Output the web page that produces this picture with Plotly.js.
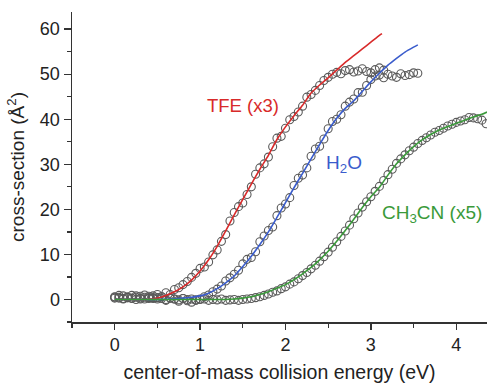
<!DOCTYPE html>
<html>
<head>
<meta charset="utf-8">
<script src="https://cdn.plot.ly/plotly-3.0.1.min.js"></script>
<style>html,body{margin:0;padding:0;background:#fff;}#chart{width:487px;height:383px;}</style>
</head>
<body>
<div id="chart"></div>
<script>
// Measured data (x starts at 0, step 0.05 eV)
const dataStart = 0;
const dataStep = 0.05;
const tfeData = [0.6,0.3,0.8,0.4,0.9,0.5,0.7,1.0,0.4,0.8,
  1.1,0.6,1.5,1.1,2.2,2.6,3.3,4.0,4.9,5.8,
  6.9,7.2,8.3,9.9,11.0,12.9,14.4,17.4,19.3,20.6,
  21.4,23.3,25.0,27.8,29.2,30.1,31.6,33.9,35.8,36.2,
  38.0,39.9,40.6,41.6,42.9,44.9,45.5,46.4,47.5,48.6,
  49.3,50.0,50.4,50.1,50.8,51.0,50.5,50.7,51.2,50.6,
  50.3,51.0,51.4,50.9];
const h2oData = [0.5,0.9,0.2,0.6,0.3,0.8,0.1,0.5,0.7,0.2,
  0.4,0.6,-0.2,0.3,0.1,-0.4,0.2,-0.3,-0.6,-0.2,
  0.1,0.6,1.0,1.7,2.3,3.0,4.1,4.8,5.6,6.5,
  7.9,8.9,9.3,10.6,12.8,14.1,15.3,16.1,18.6,20.3,
  21.2,22.6,25.3,26.9,27.6,29.2,31.8,33.4,34.0,35.6,
  37.9,39.5,40.0,41.0,42.9,43.8,44.5,45.9,46.0,47.5,
  48.8,49.6,49.8,49.2,50.0,49.6,49.3,50.1,49.7,49.9,50.3,50.2];
const ch3cnData = [0.3,0.5,0.1,0.4,0.2,0.0,0.3,0.1,0.2,0.4,
  0.1,0.2,0.0,0.3,0.1,-0.1,0.2,0.0,0.1,-0.1,
  0.0,0.1,-0.2,0.0,-0.1,0.1,-0.2,-0.1,0.0,-0.2,
  0.0,0.1,0.2,0.4,0.6,0.9,1.2,1.6,1.9,2.4,
  2.8,3.4,3.9,4.6,5.3,6.0,6.8,7.6,8.5,9.5,
  10.5,11.6,12.8,14.0,15.2,16.5,17.9,19.2,20.5,21.7,
  22.8,24.0,25.1,26.4,27.7,28.9,30.2,31.2,32.1,33.0,
  33.8,34.6,35.3,35.9,36.5,37.1,37.5,38.0,38.5,38.9,
  39.3,39.6,39.9,40.4,40.3,40.1,39.8,39.0];

// Fit curves
const tfeFitX = [0,0.1,0.2,0.3,0.4,0.5,0.6,0.7,0.8,0.9,1.0,1.1,1.2,1.3,1.4,1.5,1.6,1.7,1.8,1.9,2.0,2.1,2.2,2.3,2.4,2.5,2.6,2.7,2.8,2.9,3.0,3.1,3.13];
const tfeFitY = [0,0,0,0,0.05,0.3,0.9,1.7,2.8,4.3,6.3,8.8,11.8,15.2,18.8,22.2,25.6,28.9,32,35.5,38.3,40.8,43.1,45.8,47.6,49.2,50.9,52.6,54.1,55.6,57.1,58.6,59];
const h2oFitX = [0,0.2,0.4,0.5,0.6,0.7,0.8,0.9,1.0,1.1,1.2,1.3,1.4,1.5,1.6,1.7,1.8,1.9,2.0,2.1,2.2,2.3,2.4,2.5,2.6,2.7,2.8,2.9,3.0,3.1,3.2,3.3,3.4,3.5,3.55];
const h2oFitY = [0,0,0,0,0.05,0.15,0.3,0.5,0.8,1.4,2.4,3.7,5.2,7.3,9.6,12.2,15,18.2,21.5,24.8,28,31.2,34.4,37.5,40.2,42.4,44.1,46.2,48.3,50.2,52,53.5,54.9,56,56.5];
const ch3cnFitX = [0,0.4,0.8,1.2,1.3,1.4,1.5,1.6,1.7,1.8,1.9,2.0,2.1,2.2,2.3,2.4,2.5,2.6,2.7,2.8,2.9,3.0,3.1,3.2,3.3,3.4,3.5,3.6,3.7,3.8,3.9,4.0,4.1,4.2,4.3,4.36];
const ch3cnFitY = [0,0,0,0,0,0.1,0.3,0.6,1.1,1.7,2.5,3.3,4.4,5.7,7.1,8.8,10.7,12.9,15.3,17.8,20.4,22.8,24.9,27.6,30.1,32.1,33.9,35.4,36.6,37.6,38.4,39.1,39.8,40.5,41.1,41.6];

const labels = {tfe: 'TFE (x3)', h2o: 'H<sub>2</sub>O', ch3cn: 'CH<sub>3</sub>CN (x5)'};
const colors = {tfe: '#d82a2a', h2o: '#3a5ccc', ch3cn: '#3a9a3a'};

const mk = {symbol: 'circle-open', size: 8, color: '#5a5a5a', line: {width: 1.1, color: '#5a5a5a'}};
function dataTrace(y) {
  return {type: 'scatter', mode: 'markers', x0: dataStart, dx: dataStep, y: y, marker: mk, showlegend: false, hoverinfo: 'skip'};
}
function fitTrace(x, y, c) {
  return {type: 'scatter', mode: 'lines', x: x, y: y, line: {color: c, width: 1.6, shape: 'spline', smoothing: 0.6}, showlegend: false};
}

const traces = [
  dataTrace(tfeData), dataTrace(h2oData), dataTrace(ch3cnData),
  fitTrace(tfeFitX, tfeFitY, colors.tfe),
  fitTrace(h2oFitX, h2oFitY, colors.h2o),
  fitTrace(ch3cnFitX, ch3cnFitY, colors.ch3cn)
];

const font = 'Arial, "Liberation Sans", sans-serif';
const layout = {
  width: 487, height: 383,
  margin: {l: 72, r: 0, t: 12, b: 61},
  paper_bgcolor: '#fff', plot_bgcolor: '#fff',
  font: {family: font, color: '#222', size: 18},
  showlegend: false,
  xaxis: {
    range: [-0.5, 4.36], tick0: 0, dtick: 1, ticks: 'outside', ticklen: 6, tickwidth: 1.3, tickcolor: '#333',
    minor: {dtick: 0.5, ticks: 'outside', ticklen: 4, tickwidth: 1.3, tickcolor: '#333'},
    showline: true, linecolor: '#333', linewidth: 1.5, showgrid: false, zeroline: false,
    tickfont: {size: 18},
    title: {text: 'center-of-mass collision energy (eV)', font: {size: 19.5}, standoff: 12},
    automargin: false
  },
  yaxis: {
    range: [-5, 63.8], tick0: 0, dtick: 10, ticks: 'outside', ticklen: 7, tickwidth: 1.3, tickcolor: '#333',
    minor: {dtick: 5, ticks: 'outside', ticklen: 4, tickwidth: 1.3, tickcolor: '#333'},
    showline: true, linecolor: '#333', linewidth: 1.5, showgrid: false, zeroline: false,
    tickfont: {size: 18},
    title: {text: 'cross-section (Å<sup>2</sup>)', font: {size: 19}, standoff: 10},
    automargin: false
  },
  annotations: [
    {x: 1.5, y: 43.1, xref: 'x', yref: 'y', text: labels.tfe, showarrow: false, font: {size: 18.5, color: colors.tfe}},
    {x: 2.69, y: 30, xref: 'x', yref: 'y', text: labels.h2o, showarrow: false, font: {size: 19, color: colors.h2o}},
    {x: 3.71, y: 18.9, xref: 'x', yref: 'y', text: labels.ch3cn, showarrow: false, font: {size: 19, color: colors.ch3cn}}
  ]
};

Plotly.newPlot('chart', traces, layout, {displayModeBar: false, staticPlot: true});
</script>
</body>
</html>
